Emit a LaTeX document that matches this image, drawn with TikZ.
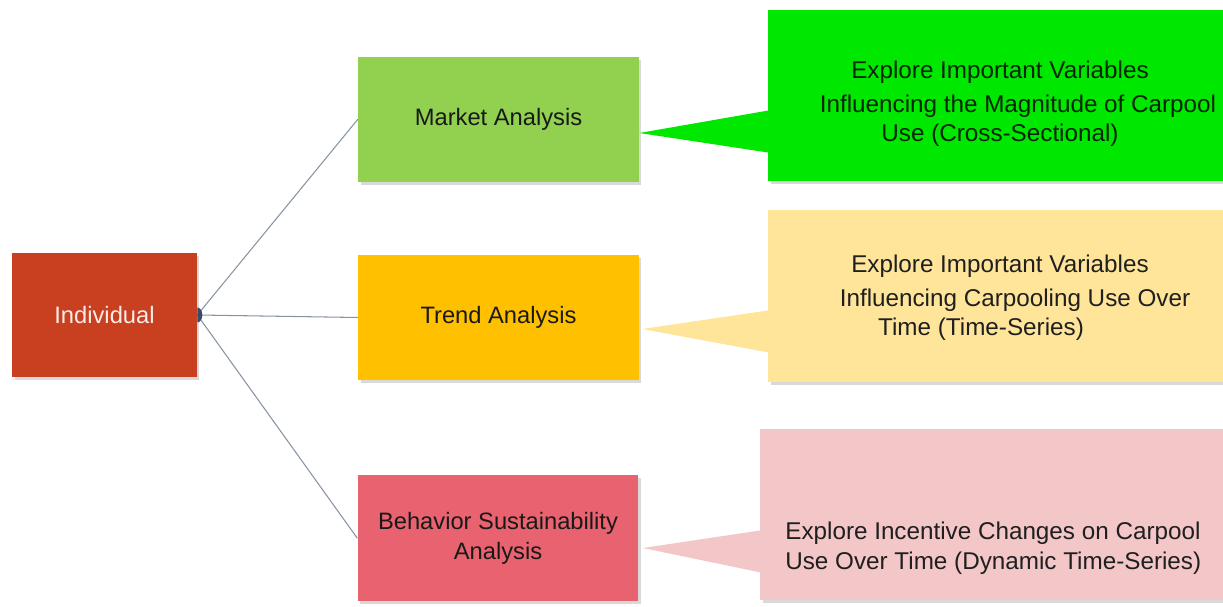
\documentclass[tikz,border=0pt]{standalone}
\usepackage{fontspec}
\setmainfont{Liberation Sans}
\usepackage{tikz}
\usepackage{xcolor}
\usetikzlibrary{shadows}

\definecolor{indred}{HTML}{C8401F}
\definecolor{mktgreen}{HTML}{92D050}
\definecolor{trdgold}{HTML}{FFC000}
\definecolor{behrose}{HTML}{E8636F}
\definecolor{notegreen}{HTML}{00E800}
\definecolor{noteyellow}{HTML}{FFE59A}
\definecolor{notepink}{HTML}{F3C6C8}
\definecolor{linkgray}{HTML}{8793A3}
\definecolor{dotblue}{HTML}{3A4A6A}

\begin{document}
\begin{tikzpicture}[line cap=round,line join=round,x=0.02cm,y=-0.02cm,
    box/.style={rectangle,inner sep=0pt,minimum width=5.62cm,minimum height=2.52cm,align=center,
        font=\fontsize{13.5}{17}\selectfont,
        drop shadow={shadow xshift=0.05cm,shadow yshift=-0.06cm,opacity=0.3}},
    notebox/.style={rectangle,inner sep=0pt,minimum height=3.44cm,
        drop shadow={shadow xshift=0.05cm,shadow yshift=-0.06cm,opacity=0.3}},
    notetext/.style={align=center,font=\fontsize{13.8}{17}\selectfont,text=black!88},
    link/.style={draw=linkgray,line width=0.6pt}]
    \useasboundingbox (0,0) rectangle (1223,607);
    % left box and the three analyses
    \node [box,fill=indred,text=white!90!indred,minimum width=3.7cm,minimum height=2.48cm] (ind) at (104.5,315) {Individual};
    \node [box,fill=mktgreen,text=black!90] (mkt) at (498.5,119.5) {Market Analysis};
    \node [box,fill=trdgold,text=black!90] (trd) at (498.5,317.5) {Trend Analysis};
    \node [box,fill=behrose,text=black!90] (beh) at (498,538) {Behavior Sustainability\\Analysis};
    \draw [link] (ind.east) -- (mkt.west);
    \draw [link] (ind.east) -- (trd.west);
    \draw [link] (ind.east) -- (beh.west);
    \fill [dotblue] ([yshift=0.15cm]ind.east) arc [start angle=90,end angle=-90,x radius=0.1cm,y radius=0.15cm] -- cycle;
    % callouts
    \node [notebox,fill=notegreen,minimum width=9.1cm] (note1) at (995.5,95.5) {};
    \node [notebox,fill=noteyellow,minimum width=9.1cm] (note2) at (995.5,296) {};
    \node [notebox,fill=notepink,minimum width=9.26cm,minimum height=3.42cm] (note3) at (991.5,514.5) {};
    \coordinate (tip1) at ([yshift=-0.27cm]mkt.east);
    \coordinate (tip2) at ([xshift=0.06cm,yshift=-0.23cm]trd.east);
    \coordinate (tip3) at ([xshift=0.08cm,yshift=-0.2cm]beh.east);
    \fill [notegreen] (tip1) -- ([xshift=2pt,yshift=-0.29cm]note1.west) -- ([xshift=2pt,yshift=-1.15cm]note1.west) -- cycle;
    \fill [noteyellow] (tip2) -- ([xshift=2pt,yshift=-0.28cm]note2.west) -- ([xshift=2pt,yshift=-1.14cm]note2.west) -- cycle;
    \fill [notepink] (tip3) -- ([xshift=2pt,yshift=-0.31cm]note3.west) -- ([xshift=2pt,yshift=-1.17cm]note3.west) -- cycle;
    \node [notetext,text=black!85!green] (text1) at (1000,104) {Explore Important Variables\\[2pt]\hspace*{0.72cm}Influencing the Magnitude of Carpool\\Use (Cross-Sectional)};
    \node [notetext] (text2) at (1000,298) {Explore Important Variables\\[2pt]\hspace*{0.6cm}Influencing Carpooling Use Over\\Time (Time-Series)\hspace*{0.76cm}};
    \node [notetext,align=left,anchor=west,inner sep=0pt] (text3) at (785,548) {Explore Incentive Changes on Carpool\\Use Over Time (Dynamic Time-Series)};
\end{tikzpicture}
\end{document}
